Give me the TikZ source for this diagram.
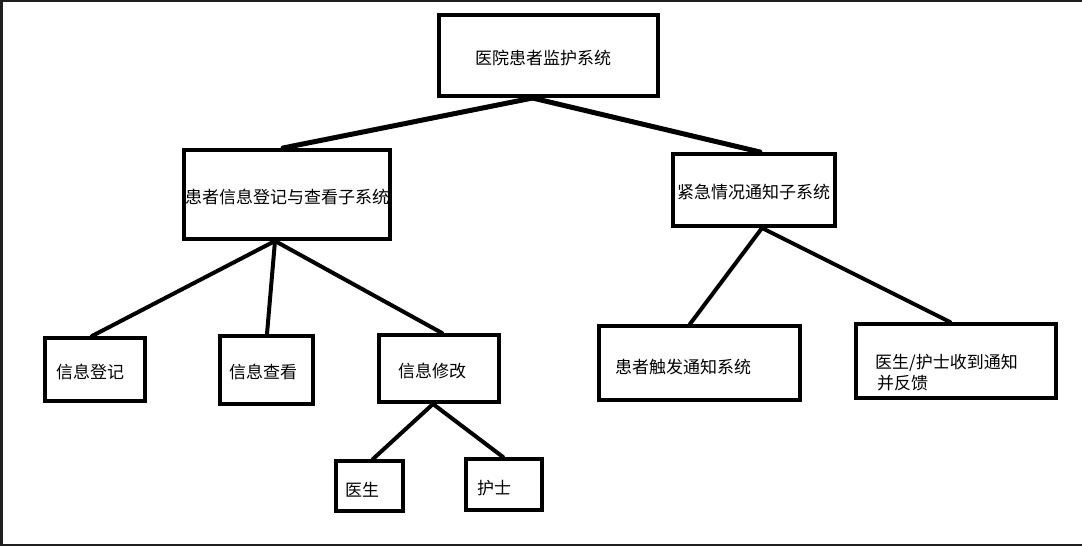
\documentclass[tikz,border=0pt]{standalone}
\usepackage{fontspec}
\setmainfont{Noto Sans CJK SC}
\begin{document}
\begin{tikzpicture}[x=1pt,y=-1pt,
  box/.style={draw=black,line width=4pt,fill=white,rectangle,inner sep=0pt},
  conn/.style={draw=black,line width=4pt},
  topconn/.style={draw=black,line width=5pt},
  txt/.style={anchor=west,inner sep=0pt,font=\fontsize{17}{21}\selectfont},
  frame/.style={draw=black!88}]
\useasboundingbox (0,0) rectangle (1082,546);
\fill[white] (0,0) rectangle (1082,546);
% frame edges
\draw[frame,line width=1.5pt] (0,0.75) -- (1082,0.75);
\draw[frame,line width=2.5pt] (1.25,0) -- (1.25,546);
\draw[frame,line width=2pt] (0,544.5) -- (1082,544.5);

% boxes
\node[box,minimum width=219pt,minimum height=81pt] (root) at (548.5,55.5) {};
\node[box,minimum width=206pt,minimum height=89pt] (left) at (287,194.5) {};
\node[box,minimum width=162pt,minimum height=72pt] (right) at (754,190) {};
\node[box,minimum width=100pt,minimum height=63pt] (n1) at (95,369.5) {};
\node[box,minimum width=93pt,minimum height=68pt] (n2) at (266.5,370) {};
\node[box,minimum width=120pt,minimum height=67pt] (n3) at (439,368.5) {};
\node[box,minimum width=67pt,minimum height=50pt] (doc) at (369.5,486) {};
\node[box,minimum width=76pt,minimum height=51pt] (nur) at (504,484.5) {};
\node[box,minimum width=201pt,minimum height=74pt] (r1) at (699.5,363) {};
\node[box,minimum width=200pt,minimum height=74pt] (r2) at (956,361) {};

% connectors
\draw[topconn,line cap=round] ([xshift=-16pt]root.south) -- ([xshift=-4pt]left.north);
\draw[topconn,line cap=round] ([xshift=-16pt]root.south) -- ([xshift=6pt]right.north);
\draw[conn,line cap=round] ([xshift=-12pt]left.south) -- ([xshift=-3pt]n1.north);
\draw[conn,line cap=round] ([xshift=-12pt]left.south) -- ([xshift=0.5pt]n2.north);
\draw[conn,line cap=round] ([xshift=-12pt]left.south) -- ([xshift=3pt]n3.north);
\draw[conn,line cap=round] ([xshift=8pt]right.south) -- ([xshift=-9.5pt]r1.north);
\draw[conn,line cap=round] ([xshift=8pt]right.south) -- ([xshift=-6pt]r2.north);
\draw[conn,line cap=round] ([xshift=-6pt]n3.south) -- ([xshift=3.5pt]doc.north);
\draw[conn,line cap=round] ([xshift=-6pt]n3.south) -- ([xshift=-1pt]nur.north);

% texts
\node[txt] (troot) at (475,58) {医院患者监护系统};
\node[txt] (tleft) at (185,197) {患者信息登记与查看子系统};
\node[txt] (tright) at (677,192) {紧急情况通知子系统};
\node[txt] (tn1) at (56,372) {信息登记};
\node[txt] (tn2) at (229,372) {信息查看};
\node[txt] (tn3) at (398,371) {信息修改};
\node[txt] (tdoc) at (345,490) {医生};
\node[txt] (tnur) at (477,488) {护士};
\node[txt] (tr1) at (615,367) {患者触发通知系统};
\node[txt,align=left] (tr2) at (875,372.5) {医生/护士收到通知\\\hspace*{2pt}并反馈};
\end{tikzpicture}
\end{document}
